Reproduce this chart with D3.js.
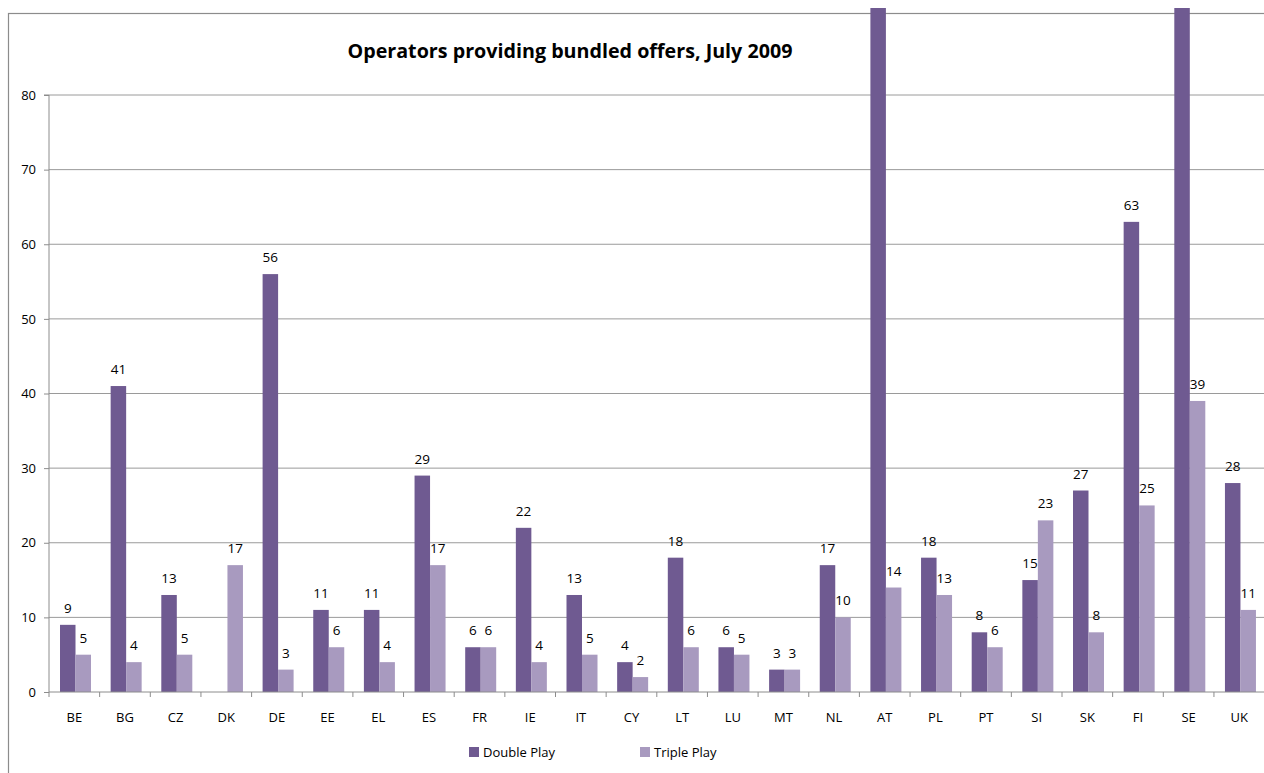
<!DOCTYPE html>
<html><head><meta charset="utf-8">
<script src="https://cdn.jsdelivr.net/npm/d3@7"></script>
<style>
html,body{margin:0;padding:0;background:#fff;overflow:hidden;}
svg{display:block;font-family:"Open Sans",Lato,sans-serif;}
</style></head>
<body>
<svg id="chart" width="1264" height="773"></svg>
<script>
const categories = ["BE","BG","CZ","DK","DE","EE","EL","ES","FR","IE","IT","CY","LT","LU","MT","NL","AT","PL","PT","SI","SK","FI","SE","UK"];
const doublePlay = [9,41,13,null,56,11,11,29,6,22,13,4,18,6,3,17,104,18,8,15,27,63,120,28];
const triplePlay = [5,4,5,17,3,6,4,17,6,4,5,2,6,5,3,10,14,13,6,23,8,25,39,11];
const yTicks = [0,10,20,30,40,50,60,70,80];
const seriesNames = ["Double Play","Triple Play"];
const colors = ["#6f5a91","#a89abf"];
const title = "Operators providing bundled offers, July 2009";

const svg = d3.select("#chart");
const W = 1264, H = 773;
const left = 49, right = 49 + 24*50.65, zeroY = 692, topY = 95;

// chart border
svg.append("rect").attr("x",8.5).attr("y",13.5).attr("width",W+20).attr("height",H+20)
  .attr("fill","none").attr("stroke","#8c8c8c").attr("stroke-width",1.2);

const x = d3.scaleBand().domain(categories).range([left,right]).padding(0);
const x1 = d3.scaleBand().domain(seriesNames).range([11, 42]).padding(0);
const y = d3.scaleLinear().domain([0,80]).range([zeroY, topY]);

// gridlines
svg.append("g").selectAll("line").data(yTicks.filter(d=>d>0)).join("line")
  .attr("x1",left).attr("x2",W).attr("y1",d=>y(d)).attr("y2",d=>y(d))
  .attr("stroke","#9a9a9a").attr("stroke-width",1);

// y axis
const yAxis = d3.axisLeft(y).tickValues(yTicks).tickSize(5).tickPadding(8);
const gy = svg.append("g").attr("transform",`translate(${left},0)`).call(yAxis);
gy.select(".domain").attr("d",`M-5,${y(80)}H0V${zeroY}`).attr("stroke","#8c8c8c");
gy.selectAll(".tick line").attr("stroke","#8c8c8c");
gy.selectAll("text").attr("font-size",13).attr("fill","#000").attr("font-family","'Open Sans',sans-serif");

// clip for bars
svg.append("clipPath").attr("id","clip").append("rect").attr("x",0).attr("y",8).attr("width",W).attr("height",zeroY-8+2);

const data = categories.map((c,i)=>({c, vals:[doublePlay[i], triplePlay[i]]}));
const groups = svg.append("g").attr("clip-path","url(#clip)").selectAll("g").data(data).join("g")
  .attr("transform",d=>`translate(${x(d.c)},0)`);
groups.selectAll("rect").data(d=>d.vals.map((v,j)=>({v,j})).filter(e=>e.v!=null)).join("rect")
  .attr("x",e=>x1(seriesNames[e.j])).attr("width",x1.bandwidth())
  .attr("y",e=>y(e.v)).attr("height",e=>zeroY-y(e.v)).attr("fill",e=>colors[e.j]);

// labels
const lab = svg.append("g").selectAll("g").data(data).join("g").attr("transform",d=>`translate(${x(d.c)},0)`);
lab.selectAll("text").data(d=>d.vals.map((v,j)=>({v,j})).filter(e=>e.v!=null && y(e.v)-12>20)).join("text")
  .attr("x",e=>x1(seriesNames[e.j])+x1.bandwidth()/2).attr("y",e=>y(e.v)-12)
  .attr("text-anchor","middle").attr("font-size",13.5).attr("fill","#000").text(e=>e.v);

// x axis
const xAxis = d3.axisBottom(x).tickSize(0).tickPadding(21);
const gx = svg.append("g").attr("transform",`translate(0,${zeroY})`).call(xAxis);
gx.select(".domain").attr("stroke","#8c8c8c").attr("d",`M${left},0H${W}`);
gx.selectAll("text").attr("font-size",13).attr("fill","#000").attr("font-family","'Open Sans',sans-serif");
svg.append("g").selectAll("line").data(categories).join("line")
  .attr("x1",d=>x(d)).attr("x2",d=>x(d)).attr("y1",zeroY).attr("y2",zeroY+5).attr("stroke","#8c8c8c");

// title
svg.append("text").attr("x",570).attr("y",58).attr("text-anchor","middle")
  .attr("font-size",19.7).attr("font-weight","bold").attr("font-family","'Open Sans',sans-serif").text(title);

// legend
const legendX = [469, 640];
const lg = svg.append("g").selectAll("g").data(seriesNames).join("g")
  .attr("transform",(d,i)=>`translate(${legendX[i]},747)`);
lg.append("rect").attr("width",10).attr("height",10).attr("fill",(d,i)=>colors[i]);
lg.append("text").attr("x",14).attr("y",9.5).attr("font-size",13).attr("fill","#000").text(d=>d);
</script>
</body></html>
